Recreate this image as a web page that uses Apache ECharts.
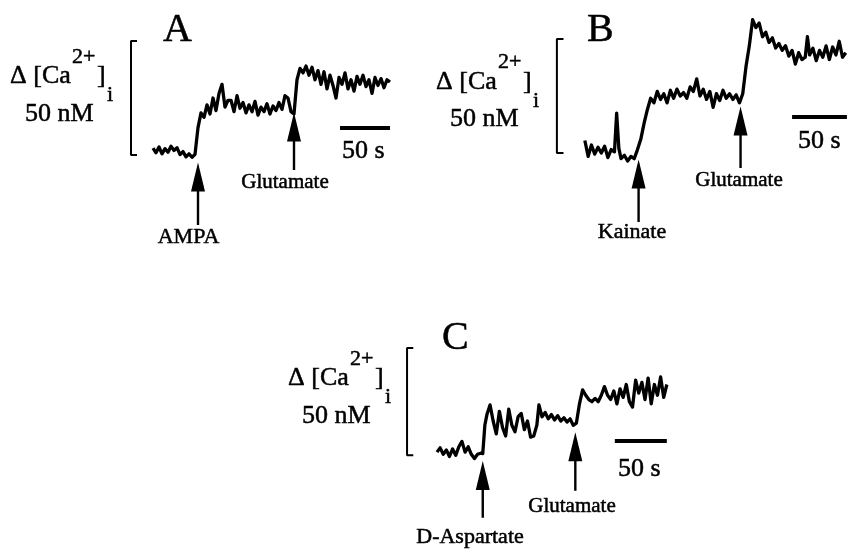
<!DOCTYPE html>
<html>
<head>
<meta charset="utf-8">
<script src="https://cdn.jsdelivr.net/npm/echarts@6/dist/echarts.min.js"></script>
<style>
  html, body { margin: 0; padding: 0; background: #fff; }
  #chart { width: 848px; height: 552px; }
</style>
</head>
<body>
<div id="chart"></div>
<script>
const FONT = '"Liberation Serif", "Times New Roman", serif';

// Panel A: AMPA, then glutamate. time in s, delta [Ca2+]i in nM
const timeA = [0, 3, 6, 9, 12, 15, 18, 21, 24, 27, 30, 33, 36, 39, 42, 45, 48, 51, 54, 57,
  60, 63, 66, 69, 72, 75, 78, 81, 84, 87, 90, 93, 96, 99, 102, 105, 108, 111, 114, 117,
  120, 123, 126, 129, 132, 135, 138, 141, 144, 147, 150, 153, 156, 159, 162, 165, 168, 171, 174, 177,
  180, 183, 186, 189, 192, 195, 198, 201, 204, 207, 210, 213, 216, 219, 222, 225, 228, 231, 234, 237];
const caA = [3.0, 1.0, 3.5, 0.5, 2.8, 1.2, 3.8, 2.0, 3.2, 0.2, 1.5, -0.8, 0.5, -1.0, 0.3, 12, 18.5, 16.5, 22, 18,
  25, 19.5, 27, 31, 21, 24, 24, 19, 26, 20.5, 23, 18.5, 22, 19, 23.5, 17.5, 21, 19, 22.5, 18,
  21.5, 19.5, 23, 20, 26, 25, 19, 18, 33, 38, 36, 39, 35, 38.5, 33, 37, 31, 36.5, 29, 35,
  30.5, 25, 34, 31, 36, 29, 33, 28, 34.5, 31, 35, 30, 33, 27, 34, 30.5, 33.5, 29.5, 33, 32];

// Panel B: kainate, then glutamate
const timeB = [0, 3, 6, 9, 12, 15, 18, 21, 24, 27, 29, 31, 33, 36, 39, 42, 45, 48, 51, 54,
  57, 60, 63, 66, 69, 72, 75, 78, 81, 84, 87, 90, 93, 96, 99, 102, 105, 108, 111, 114,
  117, 120, 123, 126, 129, 132, 135, 138, 141, 144, 147, 150, 153, 156, 159, 162, 165, 168, 171, 174,
  177, 180, 183, 186, 189, 192, 195, 198, 201, 203, 205, 208, 211, 214, 217, 220, 223, 226, 229, 232, 235, 238];
const caB = [5.5, -1.5, 3.5, -0.5, 2.5, 0, 3, -2, 1.5, 0.5, 17.5, 2, -2.5, -1, -3.5, -1.5, -2.5, 1.5, 6, 13,
  19, 24, 22, 27, 23.5, 26, 22, 27.5, 24, 28, 25, 26.5, 24, 29, 27, 32.5, 25, 28, 23.5, 27,
  20, 26, 23, 27.5, 24, 26, 23.5, 25.5, 22, 26, 38, 47, 58.5, 55, 57, 51, 53, 48.5, 50.5, 46,
  48, 45, 47, 42.5, 45, 39, 44, 41, 42, 51, 43, 46, 40.5, 45, 42, 47, 41, 46.5, 43, 49, 42, 44];

// Panel C: D-aspartate, then glutamate
const timeC = [0, 3, 6, 9, 12, 15, 18, 21, 24, 27, 30, 33, 36, 39, 42, 44, 46, 48, 51, 54,
  57, 60, 63, 66, 69, 72, 75, 78, 81, 84, 87, 90, 93, 96, 98, 101, 104, 107, 110, 113,
  116, 119, 122, 125, 128, 131, 134, 137, 140, 143, 146, 149, 152, 155, 158, 161, 164, 167, 170, 173,
  176, 179, 182, 185, 188, 191, 194, 197, 200, 203, 206, 209, 212, 215, 218, 221];
const caC = [1.5, 3.5, 0.5, 2.5, -0.5, 3, 0, 4, 6.5, 1.5, 4, 0.5, -1.5, 0.5, 1, 0.8, 14, 19, 23.5, 16,
  10, 20.5, 13, 9, 21.5, 14, 11, 18, 19.5, 12, 16, 8.5, 9, 14, 23.5, 18, 20, 17, 19, 16.5,
  18.5, 16, 17.5, 15.5, 17, 14, 15, 24, 30.5, 28, 26, 25, 26.5, 25, 28, 32, 28, 26, 30, 24,
  31, 27, 33, 25, 22.5, 35, 29, 34, 26, 36, 24, 33, 28, 36.5, 27, 33];

const panelLetters = ['A', 'B', 'C'];
const stimLabels = [['AMPA', 'Glutamate'], ['Kainate', 'Glutamate'], ['D-Aspartate', 'Glutamate']];
const stimTimes = [[45, 141], [49, 142], [44, 133]];
const scaleCa = 50;    // nM
const scaleTime = 50;  // s

const traces = [[timeA, caA], [timeB, caB], [timeC, caC]];

// layout of each panel (pixels and axis ranges); arrows = [shaft bottom, head centre] in nM
const panels = [
  { grid: { left: 113, top: 18.2, width: 290, height: 239.4 }, x: [-40, 250], y: [-45, 60],
    bracketX: -22, barStart: 187, barY: 11.8, arrows: [[-30.7, -9.6], [-6.6, 12.3]],
    letter: [163, 30.5], label: [10, 76.4], sup: [72, 57], close: [97, 76.4], sub: [107, 95.5],
    nM: [25, 114.5], sec: [342, 151.5], stim: [[188.5, 237], [285, 182]] },
  { grid: { left: 541, top: 4.8, width: 308, height: 250.8 }, x: [-40, 240], y: [-45, 65],
    bracketX: -25.5, barStart: 189, barY: 15.8, arrows: [[-30.3, -9.2], [-6.6, 14.0]],
    letter: [587, 30], label: [436, 82.5], sup: [498, 62], close: [523, 82.5], sub: [533, 101.5],
    nM: [450, 119.5], sec: [798, 141.5], stim: [[632, 232], [739, 180]] },
  { grid: { left: 395.4, top: 348, width: 291.2, height: 212.8 }, x: [-40, 240], y: [-45, 50],
    bracketX: -28.8, barStart: 171, barY: 6.7, arrows: [[-29, -9.4], [-16.5, 4.0]],
    letter: [442, 338.5], label: [288, 378.5], sup: [350, 359], close: [375, 378.5], sub: [385, 397.5],
    nM: [302, 416.5], sec: [618, 469.5], stim: [[470, 537], [572, 506]] }
];

function txt(s, pos, size, align) {
  return {
    type: 'text', x: pos[0], y: pos[1], silent: true,
    style: {
      text: s, font: size + 'px ' + FONT, fill: '#000',
      stroke: '#000', lineWidth: 0.5,
      textAlign: align || 'left', textVerticalAlign: 'middle',
      align: align || 'left', verticalAlign: 'middle'
    }
  };
}

const grids = [], xAxes = [], yAxes = [], series = [], graphics = [];

panels.forEach((p, i) => {
  grids.push(p.grid);
  xAxes.push({ type: 'value', gridIndex: i, min: p.x[0], max: p.x[1], show: false });
  yAxes.push({ type: 'value', gridIndex: i, min: p.y[0], max: p.y[1], show: false });

  const [t, v] = traces[i];
  series.push({
    type: 'line', xAxisIndex: i, yAxisIndex: i,
    data: t.map((tt, k) => [tt, v[k]]),
    showSymbol: false, symbol: 'none',
    lineStyle: { color: '#000', width: 3.3, join: 'round' }
  });
  // calibration bracket (50 nM)
  series.push({
    type: 'line', xAxisIndex: i, yAxisIndex: i, symbol: 'none',
    data: [[p.bracketX + 6, 0], [p.bracketX, 0], [p.bracketX, scaleCa], [p.bracketX + 6, scaleCa]],
    lineStyle: { color: '#000', width: 2 }
  });
  // time bar (50 s)
  series.push({
    type: 'line', xAxisIndex: i, yAxisIndex: i, symbol: 'none',
    data: [[p.barStart, p.barY], [p.barStart + scaleTime, p.barY]],
    lineStyle: { color: '#000', width: 4 }
  });
  // stimulus arrows: shafts
  stimTimes[i].forEach((st, k) => {
    series.push({
      type: 'line', xAxisIndex: i, yAxisIndex: i, symbol: 'none',
      data: [[st, p.arrows[k][0]], [st, p.arrows[k][1]]],
      lineStyle: { color: '#000', width: 2.4 }
    });
  });
  // stimulus arrows: heads
  series.push({
    type: 'scatter', xAxisIndex: i, yAxisIndex: i, z: 5,
    symbol: 'triangle', symbolSize: [14, 29],
    itemStyle: { color: '#000', opacity: 1 },
    data: stimTimes[i].map((st, k) => [st, p.arrows[k][1]])
  });

  graphics.push(txt(panelLetters[i], p.letter, 40));
  graphics.push(txt('\u0394 [Ca', p.label, 26));
  graphics.push(txt('2+', p.sup, 22));
  graphics.push(txt(']', p.close, 26));
  graphics.push(txt('i', p.sub, 22));
  graphics.push(txt('50 nM', p.nM, 26));
  graphics.push(txt('50 s', p.sec, 26));
  stimLabels[i].forEach((s, k) => graphics.push(txt(s, p.stim[k], s === 'Glutamate' ? 21 : 22, 'center')));
});

const myChart = echarts.init(document.getElementById('chart'));
myChart.setOption({
  animation: false,
  backgroundColor: '#fff',
  grid: grids,
  xAxis: xAxes,
  yAxis: yAxes,
  series,
  graphic: graphics
});
</script>
</body>
</html>
